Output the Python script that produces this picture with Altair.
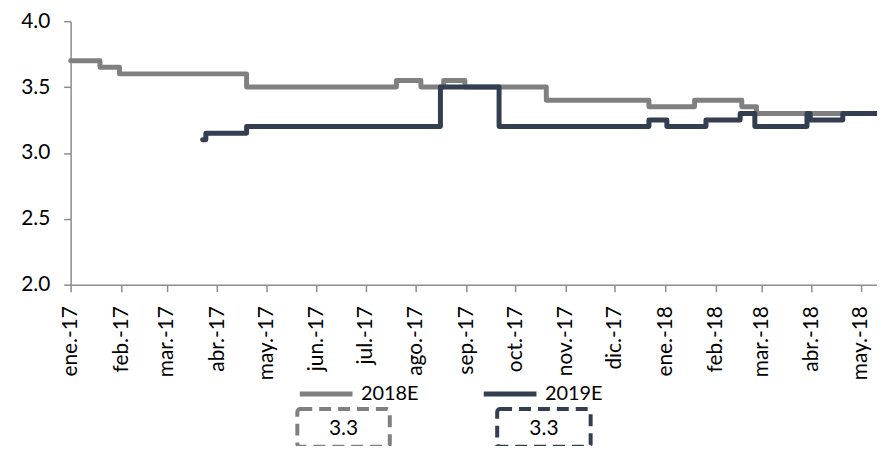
import altair as alt
import pandas as pd

# ---- data (step changes; each value holds until next date) ----
dates_2018E = ["2017-01-01", "2017-01-19", "2017-01-31", "2017-04-19", "2017-07-20",
               "2017-08-04", "2017-08-18", "2017-08-31", "2017-10-20", "2017-12-22",
               "2018-01-19", "2018-02-17", "2018-02-26", "2018-05-11"]
values_2018E = [3.70, 3.65, 3.60, 3.50, 3.55, 3.50, 3.55, 3.50, 3.40, 3.35,
                3.40, 3.35, 3.30, 3.30]

dates_2019E = ["2017-03-23", "2017-03-25", "2017-04-19", "2017-08-16", "2017-09-21",
               "2017-12-22", "2018-01-02", "2018-01-26", "2018-02-16", "2018-02-25",
               "2018-03-29", "2018-03-31", "2018-04-20", "2018-05-11"]
values_2019E = [3.10, 3.15, 3.20, 3.50, 3.20, 3.25, 3.20, 3.25, 3.30, 3.20,
                3.30, 3.25, 3.30, 3.30]

series_names = ["2018E", "2019E"]
series_colors = ["#808080", "#333F50"]
box_labels = ["3.3", "3.3"]

month_names = ["ene.", "feb.", "mar.", "abr.", "may.", "jun.", "jul.", "ago.",
               "sep.", "oct.", "nov.", "dic."]
y_ticks = [2.0, 2.5, 3.0, 3.5, 4.0]
tick_months = [(2017, m) for m in range(1, 13)] + [(2018, m) for m in range(1, 6)]

FONT = "Lato"

df = pd.concat([
    pd.DataFrame({"date": pd.to_datetime(dates_2018E), "value": values_2018E, "series": "2018E"}),
    pd.DataFrame({"date": pd.to_datetime(dates_2019E), "value": values_2019E, "series": "2019E"}),
], ignore_index=True)

month_list = "[" + ",".join("'" + m + "'" for m in month_names) + "]"
label_expr = month_list + "[month(datum.value)] + '-' + timeFormat(datum.value, '%y')"

lines = alt.Chart(df).mark_line(
    interpolate="step-after", strokeWidth=5, strokeCap="round", strokeJoin="round"
).encode(
    x=alt.X("date:T",
            scale=alt.Scale(domain=[alt.DateTime(year=2017, month=1, date=1),
                                    alt.DateTime(year=2018, month=5, date=11)], nice=False),
            axis=alt.Axis(title=None, values=[alt.DateTime(year=y, month=m, date=1) for y, m in tick_months],
                          labelExpr=label_expr, labelAngle=-90, labelFont=FONT, labelFontSize=21,
                          labelColor="#000000", labelPadding=14, tickSize=7, tickColor="#8C8C8C",
                          tickWidth=1.5, domainColor="#8C8C8C", domainWidth=1.5, grid=False,
                          labelOverlap=False)),
    y=alt.Y("value:Q", scale=alt.Scale(domain=[2.0, 4.0], nice=False, zero=False),
            axis=alt.Axis(title=None, values=y_ticks, format=".1f", labelFont=FONT,
                          labelFontSize=21, labelColor="#000000", labelPadding=14, tickSize=7,
                          tickColor="#8C8C8C", tickWidth=1.5, domainColor="#8C8C8C",
                          domainWidth=1.5, grid=False)),
    color=alt.Color("series:N",
                    scale=alt.Scale(domain=series_names, range=series_colors),
                    legend=alt.Legend(title=None, orient="none", legendX=228, legendY=346,
                                      direction="horizontal", symbolType="stroke",
                                      symbolSize=2809, symbolStrokeWidth=5,
                                      labelFont=FONT, labelFontSize=20, labelColor="#000000",
                                      labelOffset=6, columnPadding=55)),
)

layers = [lines]
box_x = [(228, 321), (429, 523)]
for i, lab in enumerate(box_labels):
    src = pd.DataFrame({"label": [lab]})
    x0, x1 = box_x[i]
    rect = alt.Chart(src).mark_rect(
        fillOpacity=0, stroke=series_colors[i], strokeWidth=4, strokeDash=[12, 7], cornerRadius=3
    ).encode(x=alt.value(x0), x2=alt.value(x1), y=alt.value(390), y2=alt.value(428))
    txt = alt.Chart(src).mark_text(
        font=FONT, fontSize=21, color="#000000", align="center", baseline="middle"
    ).encode(x=alt.value((x0 + x1) / 2), y=alt.value(410), text="label:N")
    layers += [rect, txt]

chart = alt.layer(*layers).properties(
    width=811, height=265,
    padding={"left": 63, "top": 12, "right": 0, "bottom": 161},
    autosize=alt.AutoSizeParams(type="none"),
).configure_view(stroke=None)

chart.save("out.html", embed_options={"renderer": "svg", "actions": False})
